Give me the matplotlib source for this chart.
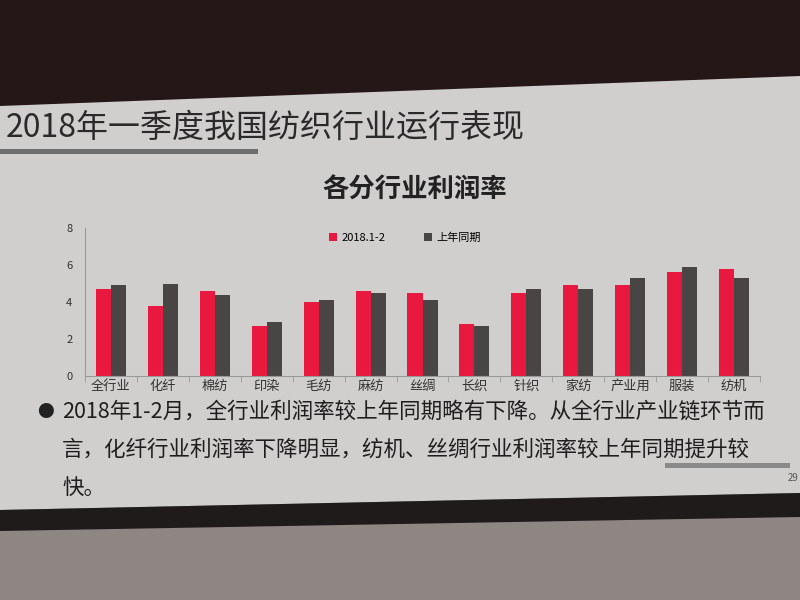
import matplotlib.pyplot as plt
import matplotlib.patches as mpatches
import numpy as np

plt.rcParams['font.family'] = ['Noto Sans CJK SC', 'DejaVu Sans']

categories = ['全行业', '化纤', '棉纺', '印染', '毛纺', '麻纺', '丝绸',
              '长织', '针织', '家纺', '产业用', '服装', '纺机']
rate_2018 = [4.7, 3.8, 4.6, 2.7, 4.0, 4.6, 4.5, 2.8, 4.5, 4.9, 4.9, 5.6, 5.8]
rate_last_year = [4.9, 5.0, 4.4, 2.9, 4.1, 4.5, 4.1, 2.7, 4.7, 4.7, 5.3, 5.9, 5.3]
series_names = ['2018.1-2', '上年同期']
yticks = [0, 2, 4, 6, 8]

slide_title = '2018年一季度我国纺织行业运行表现'
chart_title = '各分行业利润率'
bullet_lines = ['2018年1-2月，全行业利润率较上年同期略有下降。从全行业产业链环节而',
                '言，化纤行业利润率下降明显，纺机、丝绸行业利润率较上年同期提升较',
                '快。']
page_no = '29'

RED = '#e8183e'
DARK = '#4a4545'


def px(x, y):
    # pixel position (from top-left) -> figure fraction
    return (x / 800, 1 - y / 600)


def poly(points, color, z=0):
    fig.patches.append(mpatches.Polygon([px(*p) for p in points], closed=True,
                                        transform=fig.transFigure, facecolor=color,
                                        edgecolor='none', zorder=z))


fig = plt.figure(figsize=(8, 6), dpi=100)
fig.patch.set_facecolor('#d0cfcd')

# photo surroundings: stage curtain above, dark band and floor below the screen
poly([(0, 0), (800, 0), (800, 76), (0, 106)], '#251617')
poly([(0, 510), (800, 493), (800, 600), (0, 600)], '#8e8683')
poly([(0, 510), (800, 493), (800, 517), (0, 531)], '#1f1b1b')

# slide title + underline bar
fig.text(*px(6, 128), slide_title, fontsize=23, color='#2a2a2a', va='center', ha='left')
fig.patches.append(mpatches.Rectangle(px(0, 154), 258 / 800, 5 / 600, transform=fig.transFigure,
                                      facecolor='#6e6e6e', edgecolor='none'))

fig.text(*px(415, 190), chart_title, fontsize=19, fontweight='bold', color='#222222',
         ha='center', va='center')

ax = fig.add_axes([85 / 800, 1 - 376 / 600, 675 / 800, 148 / 600])
ax.set_facecolor('none')
x = np.arange(len(categories))
w = 0.29
ax.bar(x - w / 2, rate_2018, w, color=RED, label=series_names[0])
ax.bar(x + w / 2, rate_last_year, w, color=DARK, label=series_names[1])
ax.set_xlim(-0.5, len(categories) - 0.5)
ax.set_ylim(0, 8)
ax.set_yticks(yticks)
ax.tick_params(axis='y', length=0, labelsize=8, labelcolor='#333333', pad=9)
ax.set_xticks(x)
ax.set_xticklabels(categories, fontsize=9.5, color='#333333')
ax.set_xticks(np.arange(len(categories) + 1) - 0.5, minor=True)
ax.tick_params(axis='x', which='major', length=0, pad=3)
ax.tick_params(axis='x', which='minor', length=4, color='#999999')
for s in ['top', 'right']:
    ax.spines[s].set_visible(False)
ax.spines['left'].set_color('#999999')
ax.spines['bottom'].set_color('#999999')
ax.legend(loc='upper center', bbox_to_anchor=(0.474, 1.04), ncol=2, frameon=False, fontsize=8,
          handlelength=0.7, handleheight=0.7, columnspacing=3.5, handletextpad=0.4)

# bullet text
fig.text(*px(45, 412), '●', fontsize=12, color='#222222', va='center', ha='center')
for i, line in enumerate(bullet_lines):
    fig.text(*px(62, 412 + i * 38), line, fontsize=15.5, color='#1e1e1e',
             va='center', ha='left')

fig.patches.append(mpatches.Rectangle(px(665, 468), 125 / 800, 5 / 600,
                                      transform=fig.transFigure, facecolor='#8a8a8a', edgecolor='none'))
fig.text(*px(788, 478), page_no, fontsize=7, color='#555555', va='center', ha='left')

fig.savefig('out.png', dpi=100, facecolor=fig.get_facecolor())
